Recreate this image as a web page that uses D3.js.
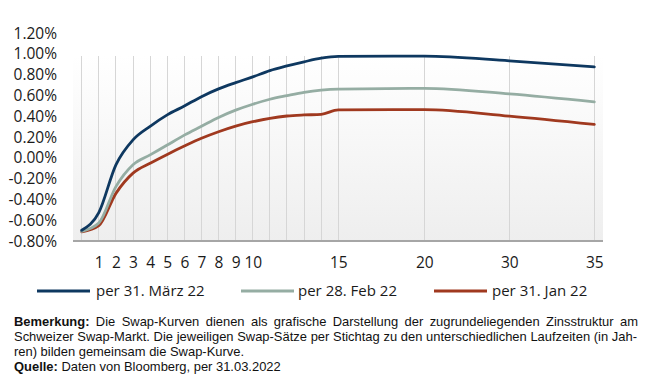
<!DOCTYPE html>
<html><head><meta charset="utf-8">
<script src="https://cdn.jsdelivr.net/npm/d3@7"></script>
<style>
html,body{margin:0;padding:0;background:#fff;}
svg{display:block;}
</style></head>
<body>
<svg id="chart" width="653" height="378"></svg>
<script>
// ---- data ----
const tenors = [0,1,2,3,4,5,6,7,8,9,10,11,12,13,14,15,20,30,35];
const march = [-0.70,-0.53,-0.07,0.17,0.30,0.41,0.495,0.585,0.66,0.72,0.775,0.835,0.88,0.92,0.955,0.972,0.975,0.93,0.872];
const feb   = [-0.71,-0.63,-0.28,-0.07,0.025,0.12,0.215,0.30,0.385,0.455,0.512,0.56,0.595,0.627,0.648,0.658,0.665,0.612,0.535];
const jan   = [-0.715,-0.655,-0.345,-0.15,-0.055,0.03,0.11,0.185,0.248,0.302,0.344,0.377,0.399,0.409,0.415,0.457,0.46,0.398,0.318];
const seriesNames = ["per 31. März 22","per 28. Feb 22","per 31. Jan 22"];
const seriesColors = ["#0e3860","#95ada3","#a0391f"];
const xTickValues = [1,2,3,4,5,6,7,8,9,10,15,20,30,35];
const gridTenors = [0,1,2,3,4,5,6,7,8,9,10,11,12,13,14,15,20,30,35];
const yTickValues = [-0.8,-0.6,-0.4,-0.2,0,0.2,0.4,0.6,0.8,1.0,1.2];
const noteLines = [
  [["Bemerkung:",true],[" Die Swap-Kurven dienen als grafische Darstellung der zugrundeliegenden Zinsstruktur am",false]],
  [["Schweizer Swap-Markt. Die jeweiligen Swap-Sätze per Stichtag zu den unterschiedlichen Laufzeiten (in Jah-",false]],
  [["ren) bilden gemeinsam die Swap-Kurve.",false]],
  [["Quelle:",true],[" Daten von Bloomberg, per 31.03.2022",false]]
];

const svg = d3.select("#chart");
const x = d3.scaleLinear().domain([0,15,20,30,35]).range([81.7,338.3,424.3,509.3,594.3]);
const y = d3.scaleLinear().domain([-0.8,1.2]).range([240.7,32.7]);

const panel = {x0:73, x1:603, y0:56, y1:241};
const defs = svg.append("defs");
const grad = defs.append("linearGradient").attr("id","bg").attr("x1",0).attr("y1",0).attr("x2",0).attr("y2",1);
grad.append("stop").attr("offset","0%").attr("stop-color","#ffffff");
grad.append("stop").attr("offset","100%").attr("stop-color","#eeeeee");
svg.append("rect").attr("x",panel.x0).attr("y",panel.y0).attr("width",panel.x1-panel.x0).attr("height",panel.y1-panel.y0).attr("fill","url(#bg)");

// vertical gridlines
svg.append("g").selectAll("line").data(gridTenors).join("line")
  .attr("x1",d=>x(d)).attr("x2",d=>x(d)).attr("y1",panel.y0).attr("y2",panel.y1)
  .attr("stroke","#d6d6d6").attr("stroke-width",1).attr("shape-rendering","crispEdges");

// axis line
svg.append("line").attr("x1",panel.x0).attr("x2",panel.x1).attr("y1",241).attr("y2",241)
  .attr("stroke","#a6a6a6").attr("stroke-width",2.2);

// y axis
const yAxis = svg.append("g").attr("transform",`translate(${panel.x0},0)`)
  .call(d3.axisLeft(y).tickValues(yTickValues).tickSize(0).tickPadding(16).tickFormat(d=>d3.format(".2f")(d).replace("−","-")+"%"));
yAxis.select(".domain").remove();
yAxis.selectAll("text").attr("font-family","'Open Sans', sans-serif").attr("font-size","15.5px").attr("fill","#1a1a1a").attr("dy","0.35em");

// x axis
const xAxis = svg.append("g").attr("transform",`translate(0,257)`)
  .call(d3.axisBottom(x).tickValues(xTickValues).tickSize(0).tickPadding(0).tickFormat(d3.format("d")));
xAxis.select(".domain").remove();
xAxis.selectAll("text").attr("font-family","'Open Sans', sans-serif").attr("font-size","15.5px").attr("fill","#1a1a1a");

// lines
const line = d3.line().x((d,i)=>x(tenors[i])).y(d=>y(d)).curve(d3.curveMonotoneX);
const allSeries = [march,feb,jan];
svg.append("g").selectAll("path").data(allSeries.slice().reverse()).join("path")
  .attr("d",line).attr("fill","none")
  .attr("stroke",(d,i)=>seriesColors[2-i]).attr("stroke-width",2.8).attr("stroke-linecap","round").attr("stroke-linejoin","round");

// legend
const legendPos = [{lx:37,tx:96},{lx:241,tx:298},{lx:434,tx:492}];
const lg = svg.append("g");
seriesNames.forEach((n,i)=>{
  lg.append("line").attr("x1",legendPos[i].lx).attr("x2",legendPos[i].lx+53).attr("y1",291).attr("y2",291)
    .attr("stroke",seriesColors[i]).attr("stroke-width",3);
  lg.append("text").attr("x",legendPos[i].tx).attr("y",291).attr("dy","0.35em")
    .attr("font-family","'Open Sans', sans-serif").attr("font-size","15px").attr("fill","#1a1a1a").text(n);
});

// footnote
const noteTargets = [624, 623, null, null];
const noteRefWidth = 267; // width of last line in reference
const ng = svg.append("g");
const texts = noteLines.map((parts,i)=>{
  const t = ng.append("text").attr("x",0).attr("y",322+i*15).attr("dy","0.35em")
    .attr("font-family","'Liberation Sans Narrow','Arial Narrow','Liberation Sans',Arial,sans-serif")
    .attr("font-size","12px").attr("fill","#111");
  parts.forEach(p=>t.append("tspan").attr("font-weight",p[1]?"bold":"normal").text(p[0]));
  return t;
});
const w4 = texts[3].node().getComputedTextLength();
const s = noteRefWidth / w4;
ng.attr("transform",`translate(14,0) scale(${s},1)`);
texts.forEach((t,i)=>{
  if(noteTargets[i]){
    const w = t.node().getComputedTextLength();
    const full = noteLines[i].map(p=>p[0]).join("");
    const nSp = (full.match(/ /g)||[]).length;
    const extra = (noteTargets[i]/s - w)/nSp;
    t.attr("word-spacing", extra);
  }
});
</script>
</body></html>
